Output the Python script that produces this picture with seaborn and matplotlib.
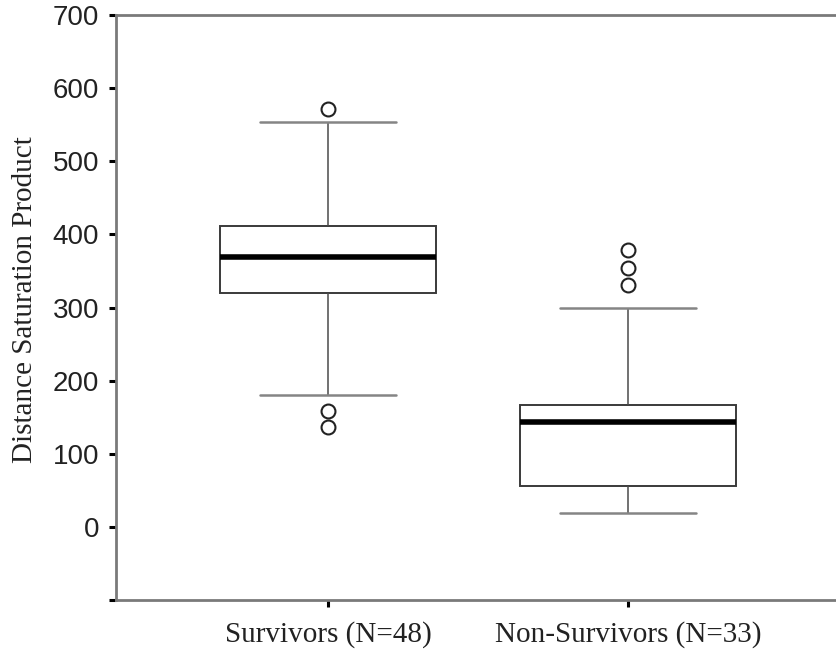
import matplotlib
matplotlib.use("Agg")
import matplotlib.pyplot as plt
import seaborn as sns
import pandas as pd

# ---- data ----
groups = ["Survivors (N=48)", "Non-Survivors (N=33)"]
lower_whisker = [181, 19]
q1 = [320, 56]
median = [369, 143]
q3 = [412, 166]
upper_whisker = [553, 299]
outliers_survivors = [571, 159, 137]
outliers_nonsurvivors = [379, 354, 331]
yticks = [-100, 0, 100, 200, 300, 400, 500, 600, 700]
ytick_labels = ["", "0", "100", "200", "300", "400", "500", "600", "700"]

# five-number rows per group (whiskers span min..max)
rows = []
for g, a, b, c, d, e in zip(groups, lower_whisker, q1, median, q3, upper_whisker):
    for v in (a, b, c, d, e):
        rows.append({"group": g, "value": v})
box_df = pd.DataFrame(rows)
out_df = pd.DataFrame(
    {"group": [groups[0]] * len(outliers_survivors) + [groups[1]] * len(outliers_nonsurvivors),
     "value": outliers_survivors + outliers_nonsurvivors}
)

sns.set_style("white")
plt.rcParams["font.family"] = ["Liberation Sans", "DejaVu Sans"]

fig = plt.figure(figsize=(8.36, 6.5), dpi=100)
ax = fig.add_axes([116 / 836, 1 - 600 / 650, 724 / 836, 585 / 650])

sns.boxplot(
    data=box_df, x="group", y="value", order=groups, whis=(0, 100),
    showfliers=False, width=0.72, color="white", linecolor="#3a3a3a",
    linewidth=1.4, capwidths=0.455,
    medianprops=dict(color="black", linewidth=4.0),
    whiskerprops=dict(color="#4a4a4a", linewidth=1.1),
    capprops=dict(color="#858585", linewidth=1.8),
    ax=ax,
)
sns.stripplot(
    data=out_df, x="group", y="value", order=groups, jitter=False,
    marker="o", size=10, color="white", edgecolor="#222222", linewidth=1.5,
    ax=ax, zorder=5,
)

ax.set_xlim(-0.7067, 1.7067)
ax.set_ylim(-100, 700)
ax.set_yticks(yticks)
ax.set_yticklabels(ytick_labels, fontsize=20, family=["Liberation Sans", "DejaVu Sans"], color="#222222")
ax.set_xticks(range(len(groups)))
ax.set_xticklabels(groups, fontsize=21, family=["Liberation Serif", "DejaVu Serif"], color="#222222")
ax.set_xlabel("")
ax.set_ylabel("Distance Saturation Product", fontsize=21,
              family=["Liberation Serif", "DejaVu Serif"], color="#222222")
ax.yaxis.set_label_coords(-0.108, 0.513)

ax.tick_params(axis="both", which="both", direction="out", length=5, width=2.2,
               color="black", left=True, bottom=True)
ax.tick_params(axis="y", pad=7)
ax.tick_params(axis="x", pad=10)

for side in ("left", "bottom", "top"):
    ax.spines[side].set_visible(True)
    ax.spines[side].set_color("#7a7a7a")
    ax.spines[side].set_linewidth(2.0)
ax.spines["right"].set_visible(False)

fig.savefig("out.png", dpi=100)
